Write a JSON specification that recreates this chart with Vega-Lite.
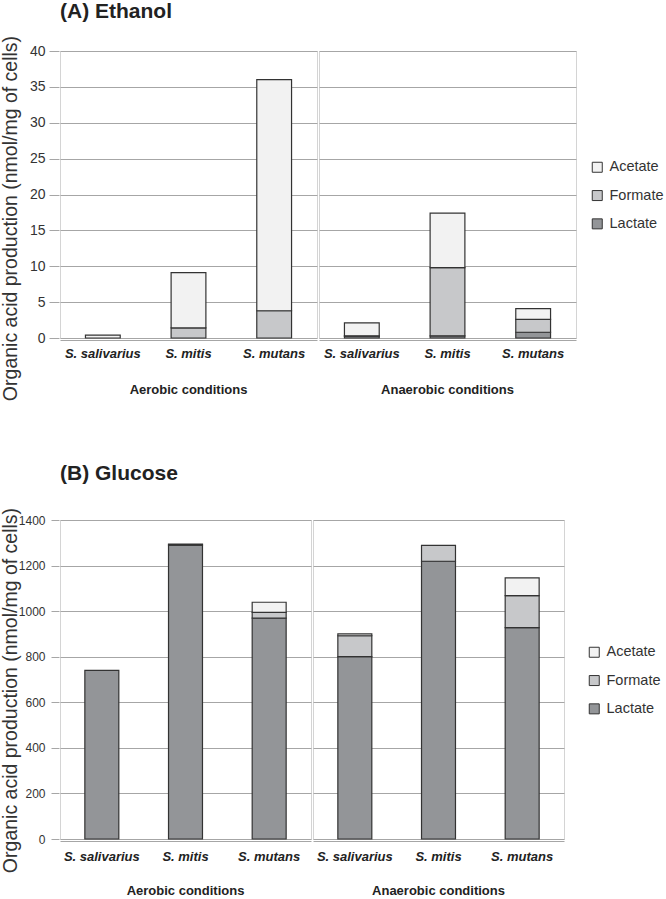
{
  "$schema": "https://vega.github.io/schema/vega-lite/v6.json",
  "background": "white",
  "padding": {"left": 0, "top": 1, "right": 0, "bottom": 0},
  "config": {
    "font": "Liberation Sans",
    "view": {"stroke": "#d4d4d4", "strokeWidth": 1},
    "axisY": {
      "gridColor": "#a6a6a6", "gridWidth": 1, "domain": false,
      "tickColor": "#a6a6a6",
      "labelFont": "Liberation Sans", "labelColor": "#333333",
      "titleFont": "Liberation Sans", "titleFontSize": 19.5, "titleFontWeight": "normal", "titleColor": "#333333"
    },
    "axisX": {
      "domainColor": "#a6a6a6", "ticks": false, "labelAngle": 0,
      "labelFont": "Liberation Sans",
      "labelFontSize": 13, "labelFontWeight": "bold", "labelFontStyle": "italic", "labelColor": "#222222"
    },
    "legend": {
      "labelFont": "Liberation Sans", "labelFontSize": 14.5, "labelColor": "#333333",
      "symbolType": "square", "symbolSize": 100, "symbolStrokeColor": "#333333", "symbolStrokeWidth": 1,
      "rowPadding": 12.3, "labelOffset": 5
    },
    "title": {"font": "Liberation Sans", "fontSize": 21, "fontWeight": "bold", "color": "#222222", "anchor": "start", "frame": "group"}
  },
  "datasets": {
    "ethanol": [
      {"condition": "Aerobic conditions", "species": "S. salivarius", "acid": "Acetate", "value": 0.4},
      {"condition": "Aerobic conditions", "species": "S. mitis", "acid": "Formate", "value": 1.4},
      {"condition": "Aerobic conditions", "species": "S. mitis", "acid": "Acetate", "value": 7.7},
      {"condition": "Aerobic conditions", "species": "S. mutans", "acid": "Formate", "value": 3.8},
      {"condition": "Aerobic conditions", "species": "S. mutans", "acid": "Acetate", "value": 32.2},
      {"condition": "Anaerobic conditions", "species": "S. salivarius", "acid": "Lactate", "value": 0.25},
      {"condition": "Anaerobic conditions", "species": "S. salivarius", "acid": "Formate", "value": 0.05},
      {"condition": "Anaerobic conditions", "species": "S. salivarius", "acid": "Acetate", "value": 1.8},
      {"condition": "Anaerobic conditions", "species": "S. mitis", "acid": "Lactate", "value": 0.3},
      {"condition": "Anaerobic conditions", "species": "S. mitis", "acid": "Formate", "value": 9.5},
      {"condition": "Anaerobic conditions", "species": "S. mitis", "acid": "Acetate", "value": 7.6},
      {"condition": "Anaerobic conditions", "species": "S. mutans", "acid": "Lactate", "value": 0.8},
      {"condition": "Anaerobic conditions", "species": "S. mutans", "acid": "Formate", "value": 1.8},
      {"condition": "Anaerobic conditions", "species": "S. mutans", "acid": "Acetate", "value": 1.5}
    ],
    "glucose": [
      {"condition": "Aerobic conditions", "species": "S. salivarius", "acid": "Lactate", "value": 740},
      {"condition": "Aerobic conditions", "species": "S. mitis", "acid": "Lactate", "value": 1290},
      {"condition": "Aerobic conditions", "species": "S. mitis", "acid": "Formate", "value": 4},
      {"condition": "Aerobic conditions", "species": "S. mutans", "acid": "Lactate", "value": 969},
      {"condition": "Aerobic conditions", "species": "S. mutans", "acid": "Formate", "value": 26},
      {"condition": "Aerobic conditions", "species": "S. mutans", "acid": "Acetate", "value": 44},
      {"condition": "Anaerobic conditions", "species": "S. salivarius", "acid": "Lactate", "value": 800},
      {"condition": "Anaerobic conditions", "species": "S. salivarius", "acid": "Formate", "value": 92},
      {"condition": "Anaerobic conditions", "species": "S. salivarius", "acid": "Acetate", "value": 8},
      {"condition": "Anaerobic conditions", "species": "S. mitis", "acid": "Lactate", "value": 1219},
      {"condition": "Anaerobic conditions", "species": "S. mitis", "acid": "Formate", "value": 70},
      {"condition": "Anaerobic conditions", "species": "S. mutans", "acid": "Lactate", "value": 928},
      {"condition": "Anaerobic conditions", "species": "S. mutans", "acid": "Formate", "value": 140},
      {"condition": "Anaerobic conditions", "species": "S. mutans", "acid": "Acetate", "value": 78}
    ]
  },
  "vconcat": [
    {
      "data": {"name": "ethanol"},
      "title": {"text": "(A) Ethanol", "offset": 13},
      "spacing": 0,
      "facet": {
        "column": {
          "field": "condition", "type": "nominal",
          "sort": ["Aerobic conditions", "Anaerobic conditions"],
          "header": {
            "title": null, "labelOrient": "bottom", "labelPadding": 24,
            "labelFont": "Liberation Sans",
            "labelFontSize": 13, "labelFontWeight": "bold", "labelColor": "#222222"
          }
        }
      },
      "spec": {
        "width": 257, "height": 287,
        "mark": {"type": "bar", "stroke": "#333333", "strokeWidth": 1.2},
        "encoding": {
          "x": {
            "field": "species", "type": "nominal",
            "sort": ["S. salivarius", "S. mitis", "S. mutans"],
            "scale": {"paddingInner": 0.594, "paddingOuter": 0.297},
            "axis": {"title": null, "labelPadding": 7}
          },
          "y": {
            "field": "value", "type": "quantitative", "stack": "zero",
            "scale": {"domain": [0, 40]},
            "axis": {
              "values": [0, 5, 10, 15, 20, 25, 30, 35, 40],
              "labelFontSize": 14, "tickSize": 10, "labelPadding": 4,
              "title": "Organic acid production (nmol/mg of cells)",
              "titleX": -39, "titleY": 167
            }
          },
          "color": {
            "field": "acid", "type": "nominal",
            "scale": {"domain": ["Acetate", "Formate", "Lactate"], "range": ["#f2f2f2", "#c7c8ca", "#939598"]},
            "legend": {"title": null, "orient": "none", "legendX": 530, "legendY": 109}
          },
          "order": {"field": "acid", "sort": "descending"}
        }
      }
    },
    {
      "data": {"name": "glucose"},
      "title": {"text": "(B) Glucose", "offset": 23},
      "spacing": 0,
      "facet": {
        "column": {
          "field": "condition", "type": "nominal",
          "sort": ["Aerobic conditions", "Anaerobic conditions"],
          "header": {
            "title": null, "labelOrient": "bottom", "labelPadding": 22,
            "labelFont": "Liberation Sans",
            "labelFontSize": 13, "labelFontWeight": "bold", "labelColor": "#222222"
          }
        }
      },
      "spec": {
        "width": 251, "height": 319,
        "mark": {"type": "bar", "stroke": "#333333", "strokeWidth": 1.2},
        "encoding": {
          "x": {
            "field": "species", "type": "nominal",
            "sort": ["S. salivarius", "S. mitis", "S. mutans"],
            "scale": {"paddingInner": 0.594, "paddingOuter": 0.297},
            "axis": {"title": null, "labelPadding": 9}
          },
          "y": {
            "field": "value", "type": "quantitative", "stack": "zero",
            "scale": {"domain": [0, 1400]},
            "axis": {
              "values": [0, 200, 400, 600, 800, 1000, 1200, 1400], "format": "d",
              "labelFontSize": 12, "tickSize": 8, "labelPadding": 6,
              "title": "Organic acid production (nmol/mg of cells)",
              "titleX": -39, "titleY": 170
            }
          },
          "color": {
            "field": "acid", "type": "nominal",
            "scale": {"domain": ["Acetate", "Formate", "Lactate"], "range": ["#f2f2f2", "#c7c8ca", "#939598"]},
            "legend": {"title": null, "orient": "none", "legendX": 527, "legendY": 125}
          },
          "order": {"field": "acid", "sort": "descending"}
        }
      }
    }
  ],
  "spacing": 62,
  "resolve": {"legend": {"color": "independent"}}
}
